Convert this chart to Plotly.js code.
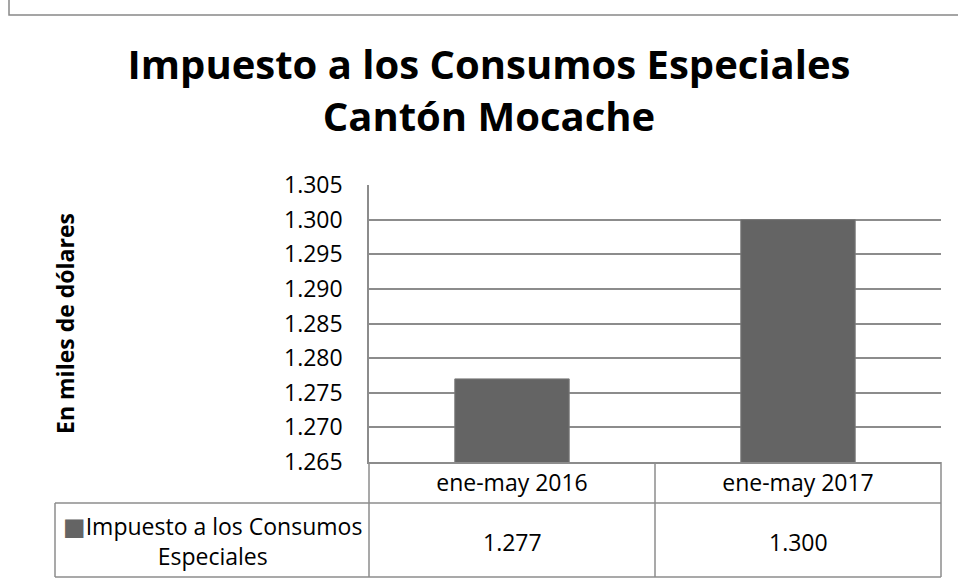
<!DOCTYPE html>
<html>
<head>
<meta charset="utf-8">
<script src="https://cdn.plot.ly/plotly-3.0.1.min.js"></script>
<style>
  html, body { margin: 0; padding: 0; background: #ffffff; }
  #chart { width: 958px; height: 582px; }
</style>
</head>
<body>
<div id="chart"></div>
<script>
// ---- data ----
var categories = ["ene-may 2016", "ene-may 2017"];
var values = [1.277, 1.300];
var valueLabels = ["1.277", "1.300"];
var seriesName = "Impuesto a los Consumos<br>Especiales";
var chartTitle = "Impuesto a los Consumos Especiales<br>Cantón Mocache";
var yTitle = "En miles de dólares";

// ---- styles ----
var FONT = "Open Sans, Noto Sans, DejaVu Sans, sans-serif";
var BAR = "#646464";
var GRID = "#8c8c8c";
var W = 958, H = 582;
var L = 369, R = 941, T = 185, B = 462;
var pw = R - L, ph = B - T;
function px(x) { return (x - L) / pw; }
function py(y) { return (B - y) / ph; }

var trace = {
  type: "bar",
  x: categories,
  y: values,
  name: seriesName,
  marker: { color: BAR, line: { color: "#7a7a7a", width: 1 } },
  showlegend: false,
  hoverinfo: "x+y"
};

var lineStyle = { color: GRID, width: 1.5 };
var shapes = [
  // outer chart border
  { type: "path", xref: "paper", yref: "paper",
    path: "M " + px(9) + "," + py(-50) + " L " + px(9) + "," + py(15) + " L " + px(1100) + "," + py(15),
    line: { color: "#888888", width: 1.5 } },
  // header row bottom
  { type: "line", xref: "paper", yref: "paper", x0: px(55), x1: 1, y0: py(503), y1: py(503), line: lineStyle },
  // table bottom
  { type: "line", xref: "paper", yref: "paper", x0: px(55), x1: 1, y0: py(577), y1: py(577), line: lineStyle },
  // legend cell left
  { type: "line", xref: "paper", yref: "paper", x0: px(55), x1: px(55), y0: py(503), y1: py(577), line: lineStyle },
  // left table border under axis
  { type: "line", xref: "paper", yref: "paper", x0: 0, x1: 0, y0: 0, y1: py(577), line: lineStyle },
  // category separator
  { type: "line", xref: "x", yref: "paper", x0: 0.5, x1: 0.5, y0: 0, y1: py(577), line: lineStyle },
  // right table border
  { type: "line", xref: "paper", yref: "paper", x0: 1, x1: 1, y0: 0, y1: py(577), line: lineStyle }
];

var annotations = [];
for (var i = 0; i < categories.length; i++) {
  annotations.push({
    xref: "x", yref: "paper", x: categories[i], y: py(542),
    text: valueLabels[i], showarrow: false, xanchor: "center", yanchor: "middle",
    font: { family: FONT, size: 23, color: "#000000" }
  });
}
annotations.push({
  xref: "paper", yref: "paper", x: px(212), y: py(540),
  text: "<span style='color:" + BAR + ";font-size:24px'>■</span>" + seriesName,
  showarrow: false, xanchor: "center", yanchor: "middle", align: "center",
  font: { family: FONT, size: 23, color: "#000000" }
});

var layout = {
  width: W, height: H,
  margin: { l: L, r: W - R, t: T, b: H - B, pad: 0 },
  paper_bgcolor: "#ffffff",
  plot_bgcolor: "#ffffff",
  font: { family: FONT, color: "#000000" },
  title: {
    text: chartTitle,
    font: { family: FONT, size: 40, weight: "bold", color: "#000000" },
    x: 489 / W, xanchor: "center", xref: "container",
    y: 1 - 79 / H, yanchor: "top", yref: "container"
  },
  bargap: 0.6,
  xaxis: {
    type: "category",
    showline: true, linecolor: GRID, linewidth: 1.5,
    showgrid: false, ticks: "",
    tickfont: { family: FONT, size: 23, color: "#000000" },
    ticklabelstandoff: 0,
    fixedrange: true
  },
  yaxis: {
    range: [1.265, 1.305], dtick: 0.005, tick0: 1.265,
    tickformat: ".3f",
    showline: true, linecolor: GRID, linewidth: 1.5,
    showgrid: true, gridcolor: GRID, gridwidth: 1.5,
    zeroline: false, ticks: "",
    tickfont: { family: FONT, size: 23, color: "#000000" },
    ticklabelstandoff: 20,
    title: { text: yTitle, font: { family: FONT, size: 23, weight: "bold", color: "#000000" }, standoff: 203 },
    fixedrange: true
  },
  shapes: shapes,
  annotations: annotations,
  showlegend: false
};

Plotly.newPlot("chart", [trace], layout, { displayModeBar: false, staticPlot: false });
</script>
</body>
</html>
